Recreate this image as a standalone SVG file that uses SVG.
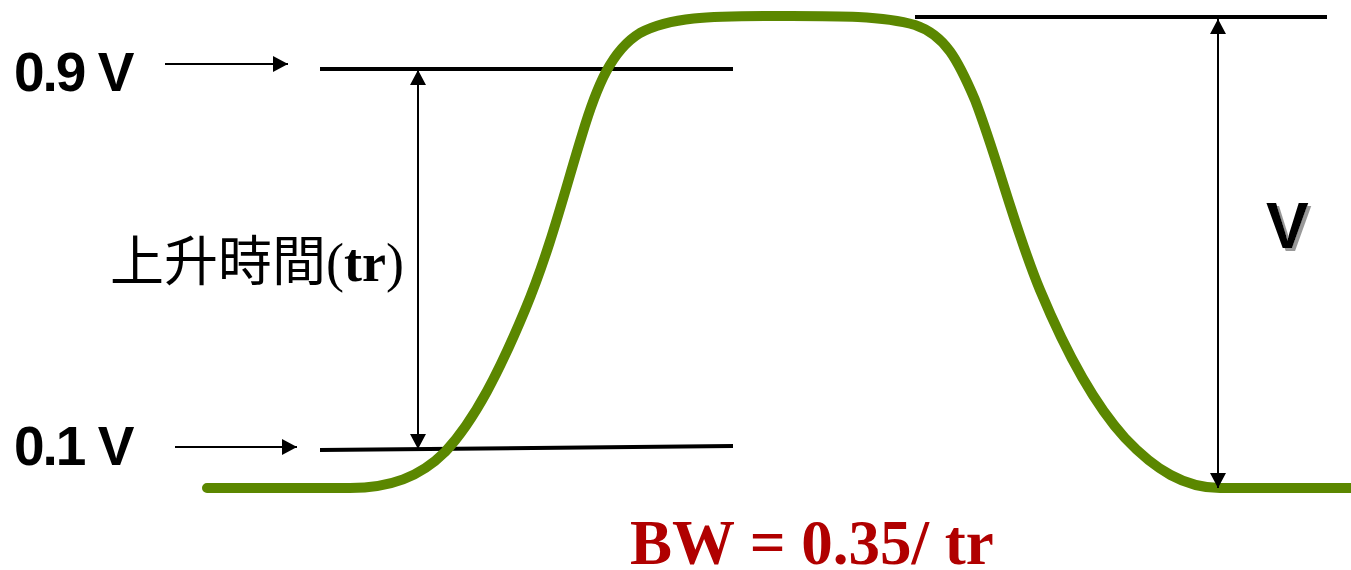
<svg xmlns="http://www.w3.org/2000/svg" width="1351" height="570" viewBox="0 0 1351 570">
<style>
.lbl{font-family:"Liberation Sans",Arial,sans-serif;font-weight:bold;fill:#000;letter-spacing:-2px}
.thin{stroke:#000;stroke-width:2;fill:none}
.lvl{stroke:#000;stroke-width:4;fill:none}
</style>
<defs>
<marker id="ah" viewBox="0 0 15 16" refX="15" refY="8" markerWidth="15" markerHeight="16" markerUnits="userSpaceOnUse" orient="auto"><path d="M0,0 L15,8 L0,16 z" fill="#000"/></marker>
<marker id="ahb" viewBox="0 0 15 16" refX="15" refY="8" markerWidth="15" markerHeight="16" markerUnits="userSpaceOnUse" orient="auto-start-reverse"><path d="M0,0 L15,8 L0,16 z" fill="#000"/></marker>
<filter id="sh" x="-20%" y="-20%" width="150%" height="150%"><feDropShadow dx="3" dy="3" stdDeviation="0.5" flood-color="#999"/></filter>
</defs>
<g id="levels">
<line class="lvl" x1="320" y1="69" x2="733" y2="69"/>
<line class="lvl" x1="320" y1="450" x2="733" y2="446"/>
<line class="lvl" x1="915" y1="17" x2="1327" y2="17"/>
</g>
<g id="signal">
<path d="M207,488 L350,488 C390,488 420,477 445,452 C475,420 500,370 525,310 C550,250 565,190 582,135 C597,85 612,50 640,33 C670,17 710,16 770,16 C830,16 880,15 915,25 C945,35 958,60 975,100 C998,160 1015,230 1040,290 C1065,350 1095,405 1125,438 C1155,470 1185,488 1220,488 L1350,488" fill="none" stroke="#5b8700" stroke-width="10" stroke-linecap="round" stroke-linejoin="round"/>
</g>
<g id="connectors">
<line class="thin" x1="165" y1="64" x2="288" y2="64" marker-end="url(#ah)"/>
<line class="thin" x1="175" y1="447" x2="297" y2="447" marker-end="url(#ah)"/>
<line class="thin" x1="418" y1="70" x2="418" y2="449" marker-start="url(#ahb)" marker-end="url(#ahb)"/>
<line class="thin" x1="1218" y1="19" x2="1218" y2="488" marker-start="url(#ahb)" marker-end="url(#ahb)"/>
</g>
<g id="label-09"><text class="lbl" x="14" y="91" font-size="55">0.9 V</text></g>
<g id="label-01"><text class="lbl" x="14" y="465" font-size="55">0.1 V</text></g>
<g id="label-V"><text class="lbl" x="1266" y="248" font-size="64" filter="url(#sh)">V</text></g>
<g id="label-tr"><text x="110" y="281" font-size="54" font-family="'Liberation Serif','Noto Sans CJK TC',serif" fill="#000">上升時間(<tspan font-weight="bold">tr</tspan>)</text></g>
<g id="label-bw"><text x="630" y="564" font-size="63" font-family="'Liberation Serif','Times New Roman',serif" font-weight="bold" fill="#b00000">BW = 0.35/ tr</text></g>
</svg>
